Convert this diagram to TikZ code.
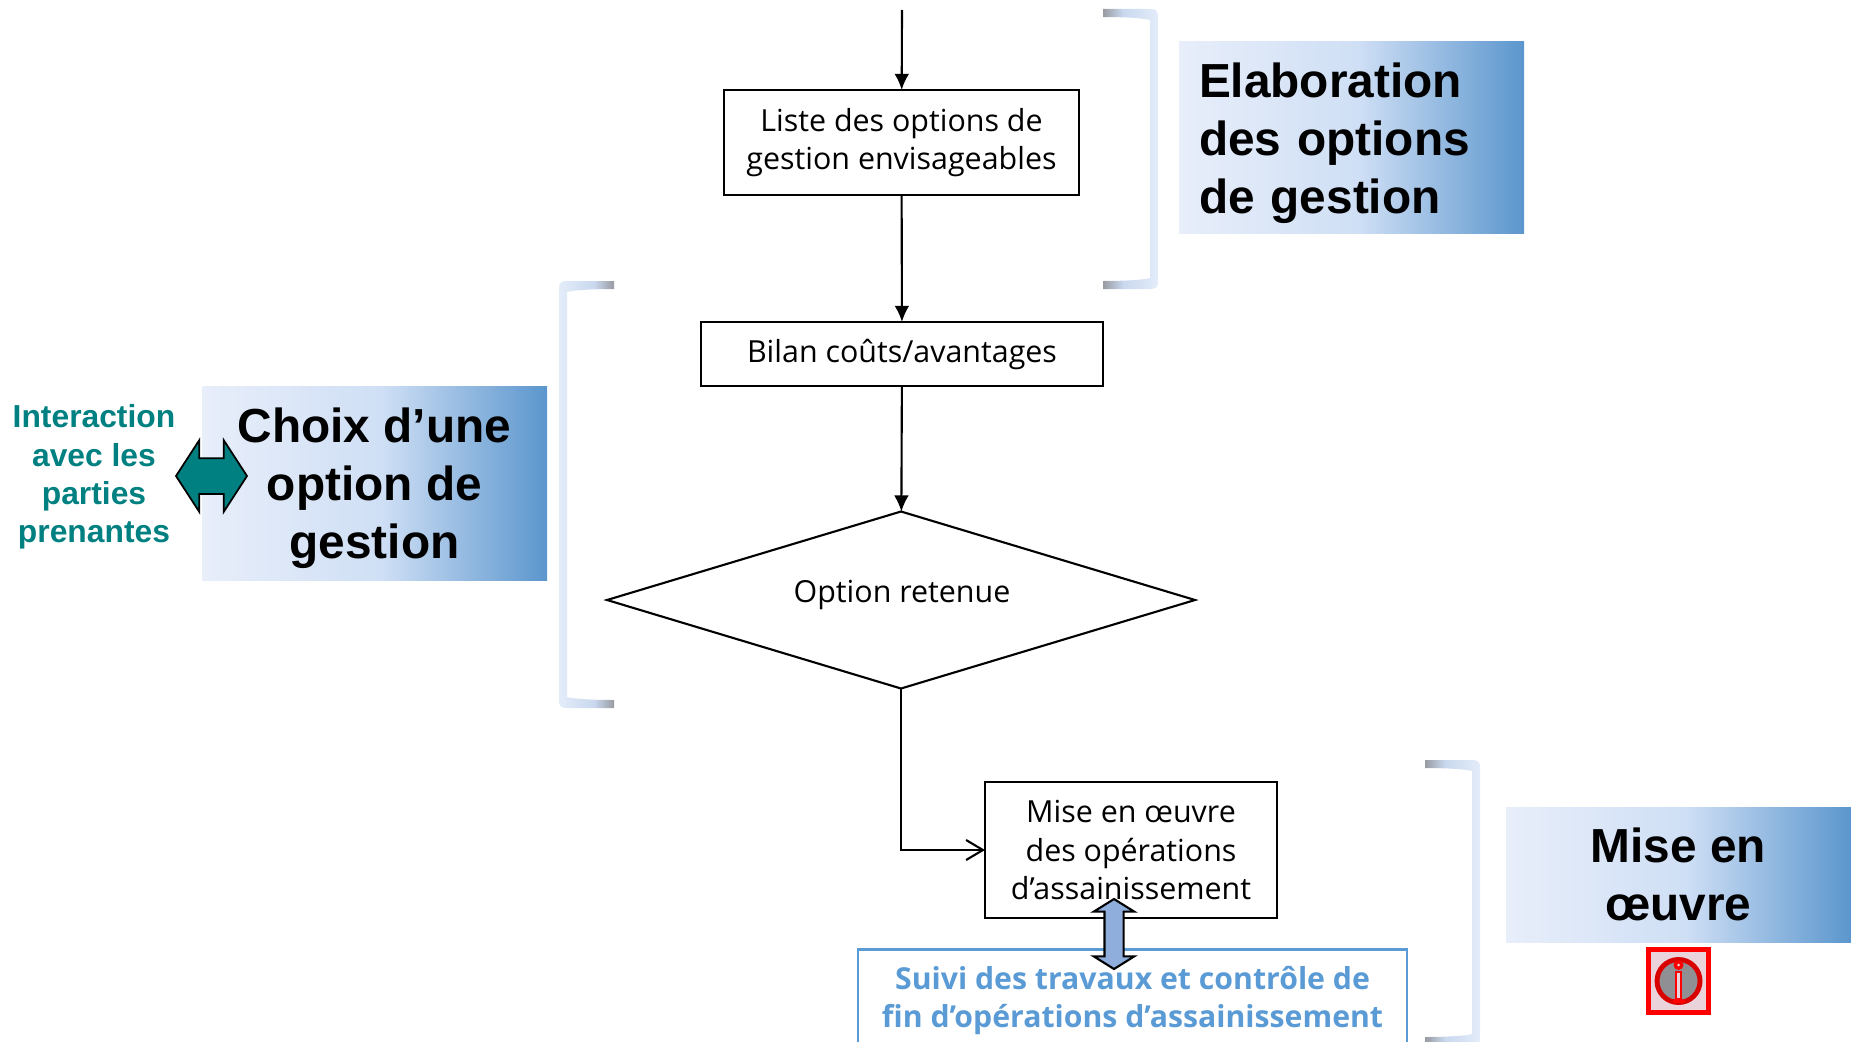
\documentclass[tikz,border=0pt]{standalone}
\usepackage{fontspec}
\setmainfont{Open Sans}
\newfontfamily\headfont{Liberation Sans}[BoldFont={Liberation Sans Bold}]
\usetikzlibrary{shapes.geometric,shapes.arrows,arrows.meta}
\definecolor{suiviblue}{HTML}{5B9BD5}
\definecolor{partieteal}{HTML}{008080}
\definecolor{arrowblue}{HTML}{8FAEDB}
\definecolor{headleft}{HTML}{E8EEFA}
\definecolor{headmid}{HTML}{CFDFF5}
\definecolor{headright}{HTML}{5B96CD}
\definecolor{bargray}{HTML}{989BA1}
\definecolor{barmid}{HTML}{C9D8EE}
\definecolor{barlight}{HTML}{E3ECF9}
\definecolor{iconpink}{HTML}{EBD3DC}
\definecolor{icongray}{HTML}{909094}
\pgfdeclarehorizontalshading{headshade}{100bp}{color(0bp)=(headleft); color(25bp)=(headleft); color(51bp)=(headmid); color(75bp)=(headright); color(100bp)=(headright)}
\pgfdeclarehorizontalshading{barshade}{100bp}{color(0bp)=(bargray); color(25bp)=(bargray); color(43bp)=(barmid); color(75bp)=(barlight); color(100bp)=(barlight)}
\tikzset{stepnode/.style={rectangle, draw, line width=0.6pt, inner sep=0pt, outer sep=0pt, align=center, font=\fontsize{8.65}{10.9}\selectfont},
	headnode/.style={rectangle, shade, shading=headshade, inner sep=0pt, font=\headfont\bfseries\fontsize{13.6}{16.5}\selectfont},
	linkarrow/.style={-{Latex[length=4.6pt,width=4.2pt]}, line width=0.6pt}}

\begin{document}
\begin{tikzpicture}
		\useasboundingbox (0,0) rectangle (18.51,10.41);
		\clip (0,0) rectangle (18.51,10.41);
		% crochets
		\foreach \xa/\sgn/\ang/\yt/\yb in {11.03/1/0/10.32/7.52, 6.14/-1/180/7.60/3.33, 14.25/1/0/2.81/-0.04}
		{
			\begin{scope}[shift={(\xa,0)},xscale=\sgn]
			\shade[shading=barshade, shading angle=\ang] (0,\yt) -- (.47,\yt) .. controls (.53,\yt) and (.55,\yt-.02) .. (.55,\yt-.07) -- (.55,\yb+.07) .. controls (.55,\yb+.02) and (.53,\yb) .. (.47,\yb) -- (0,\yb) -- (0,\yb+.08) .. controls (.2,\yb+.08) and (.4,\yb+.09) .. (.47,\yb+.11) -- (.47,\yt-.11) .. controls (.4,\yt-.09) and (.2,\yt-.08) .. (0,\yt-.08) -- cycle;
			\end{scope}
		}
		% titres
		\node[headnode, minimum width=3.45cm, minimum height=1.92cm, align=left, text width=3.05cm] (elab) at (13.515,9.035){\rule{0pt}{13pt}Elaboration\\des options\\de gestion};
		\node[headnode, minimum width=3.45cm, minimum height=1.94cm, align=center] (choix) at (3.745,5.58){\rule{0pt}{13pt}Choix d’une\\option de\\gestion};
		\node[headnode, minimum width=3.45cm, minimum height=1.35cm, align=center] (miseh) at (16.785,1.665){Mise en\\œuvre};
		\node[align=center, text=partieteal, font=\headfont\bfseries\fontsize{9.05}{10.9}\selectfont] (partie) at (0.94,5.64){Interaction\\avec les\\parties\\prenantes};
		% logigramme
		\coordinate (entree) at (9.02,10.31);
		\node[stepnode, minimum width=3.55cm, minimum height=1.05cm] (liste) at (9.015,8.985){Liste des options de\\gestion envisageables};
		\node[stepnode, minimum width=4.02cm, minimum height=0.64cm] (bilan) at (9.02,6.87){Bilan coûts/avantages};
		\node[diamond, draw, line width=0.6pt, aspect=3.3, inner sep=0pt, outer sep=0pt, minimum width=5.88cm, minimum height=1.77cm] (option) at (9.01,4.41){};
		\node[font=\fontsize{8.65}{10.9}\selectfont] (optiontxt) at (9.02,4.46){Option retenue};
		\node[stepnode, minimum width=2.92cm, minimum height=1.36cm] (mise) at (11.31,1.91){Mise en œuvre\\des opérations\\d’assainissement};
		\node[rectangle, draw=suiviblue, line width=0.6pt, inner sep=0pt, align=center, text=suiviblue, minimum width=5.49cm, minimum height=1.02cm, font=\bfseries\fontsize{8.6}{10.9}\selectfont] (suivi) at (11.325,0.405){Suivi des travaux et contrôle de\\fin d’opérations d’assainissement};
		\draw[linkarrow] (entree) -- (liste);
		\draw[linkarrow] (liste) -- (bilan);
		\draw[linkarrow] (bilan) -- (option);
		\draw[-{Straight Barb[length=4.8pt,width=5.7pt]}, line width=0.6pt] (option.south) |- (mise);
		% doubles fleches
		\node[double arrow, draw, fill=partieteal, line width=0.5pt, inner xsep=0pt, inner ysep=0.17cm, minimum height=0.71cm, minimum width=0.70cm, double arrow head extend=0.18cm, double arrow tip angle=114] (tealarrow) at (2.115,5.65){};
		\node[double arrow, draw, fill=arrowblue, line width=0.6pt, rotate=90, inner xsep=0pt, inner ysep=0.085cm, minimum height=0.70cm, minimum width=0.385cm, double arrow head extend=0.107cm, double arrow tip angle=116] (bluearrow) at (11.14,1.07){};
		% icone
		\node[rectangle, draw=red, fill=iconpink, line width=1.5pt, inner sep=0pt, minimum width=0.60cm, minimum height=0.63cm] (icon) at (16.785,0.60){};
		\node[circle, draw=red!85!black, fill=icongray, line width=1.4pt, inner sep=0pt, minimum size=0.43cm] (iconc) at (icon){};
		\draw[red, line width=2.2pt] (iconc.center)+(0,-0.20) -- +(0,0.10);
		\draw[red, line width=1pt] (iconc.center)+(-0.06,-0.20) -- +(0.06,-0.20);
		\draw[iconpink, line width=0.7pt] (iconc.center)+(0,-0.17) -- +(0,0.08);
		\fill[red] (iconc.center)+(0,0.16) circle (0.05);
		\fill[iconpink] (iconc.center)+(0,0.16) circle (0.015);
		\end{tikzpicture}
\end{document}
